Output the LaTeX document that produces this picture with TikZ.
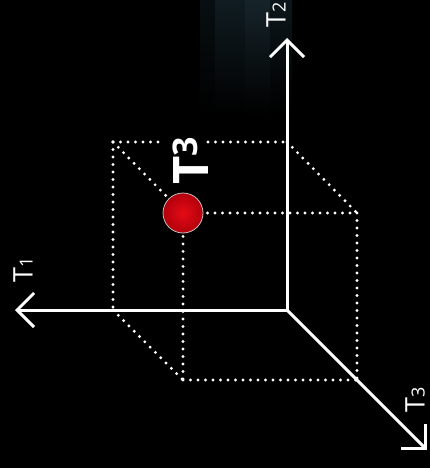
\documentclass[tikz,border=0pt]{standalone}
\usepackage{fontspec}
\setmainfont{Open Sans}
\usetikzlibrary{arrows.meta}
\definecolor{ballin}{RGB}{228,12,22}
\definecolor{ballout}{RGB}{178,0,12}
\definecolor{stA}{RGB}{8,15,18}
\definecolor{stB}{RGB}{16,28,33}
\definecolor{stC}{RGB}{22,36,42}
\definecolor{stD}{RGB}{12,22,26}
\begin{document}
\begin{tikzpicture}[x=1pt,y=-1pt,
  axis/.style={white, line width=3pt, -{Straight Barb[length=17pt,width=34pt]}},
  dots/.style={white, line width=3.2pt, line cap=round, dash pattern=on 0pt off 7.5pt},
  lab/.style={white, rotate=90, inner sep=0pt, font=\fontsize{27}{27}\selectfont}]
\fill[black] (0,0) rectangle (430,468);
\useasboundingbox (0,0) rectangle (430,468);
% faint streaks
\shade[top color=stA, bottom color=black] (200,0) rectangle (215,115);
\shade[top color=stB, bottom color=black] (215,0) rectangle (245,115);
\shade[top color=stC, bottom color=black] (245,0) rectangle (270,115);
\shade[top color=stD, bottom color=black] (270,0) rectangle (292,115);
% coordinates
\coordinate (O) at (287,310);
\coordinate (E1) at (15,310);
\coordinate (E2) at (287,38);
\coordinate (E3) at (427,450);
\coordinate (B1) at (113,142);
\coordinate (B2) at (287,142);
\coordinate (B3) at (113,310);
\coordinate (F2) at (357,213);
\coordinate (F3) at (183,380);
\coordinate (F4) at (357,380);
\coordinate (G1) at (160,142);
\coordinate (G2) at (208,142);
% ball
\node[circle, minimum size=40pt, inner sep=0pt, draw={rgb,255:red,200;green,190;blue,190}, line width=0.8pt,
  shading=radial, inner color=ballin, outer color=ballout] (ball) at (183,213) {};
% dotted cube
\draw[dots] (B1) -- (G1);
\draw[dots] (G2) -- (B2);
\draw[dots] (B1) -- (B3);
\draw[dots, shorten >=3pt] (B1) -- (ball);
\draw[dots] (B2) -- (F2);
\draw[dots, shorten <=4pt] (ball) -- (F2);
\draw[dots, shorten <=3pt] (ball) -- (F3);
\draw[dots] (F2) -- (F4);
\draw[dots] (B3) -- (F3);
\draw[dots] (F3) -- (F4);
% axes
\draw[axis] (O) -- (E1);
\draw[axis] (O) -- (E2);
\draw[axis] (O) -- (E3);
% labels
\node[lab] (l1) at (23,270) {T{\fontsize{18}{18}\selectfont 1}};
\node[lab] (l2) at (276,15) {T{\fontsize{18}{18}\selectfont 2}};
\node[lab] (l3) at (415,400) {T{\fontsize{18}{18}\selectfont 3}};
\node[white, rotate=90, inner sep=0pt, font=\bfseries\fontsize{49}{49}\selectfont] (big) at (190.5,161)
  {T\raisebox{11pt}{\fontsize{34}{34}\selectfont 3}};
\end{tikzpicture}
\end{document}
